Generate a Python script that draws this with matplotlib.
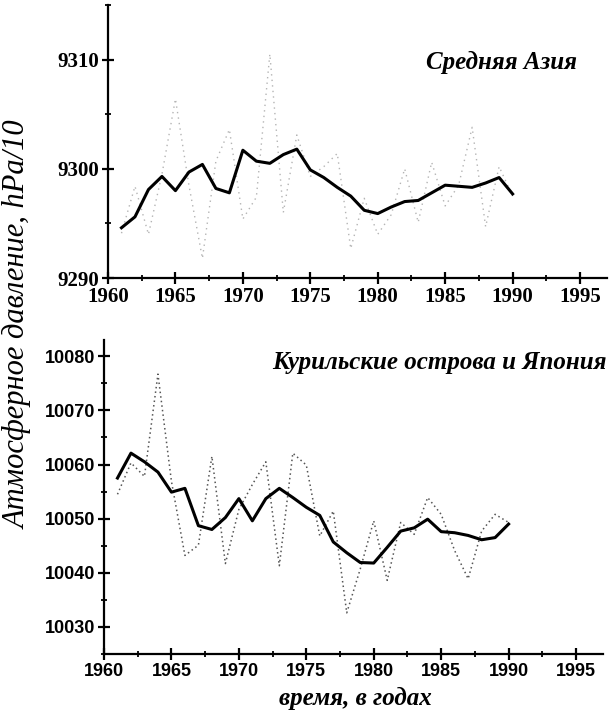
import numpy as np
import matplotlib
matplotlib.use('Agg')
import matplotlib.pyplot as plt
from matplotlib.ticker import MultipleLocator

# years of observation
years = list(range(1961, 1991))

# Средняя Азия: smoothed (solid) and annual (dotted) pressure, hPa/10
asia_smooth = [9294.6, 9295.6, 9298.1, 9299.3, 9298.0, 9299.7, 9300.4, 9298.2, 9297.8, 9301.7,
               9300.7, 9300.5, 9301.3, 9301.8, 9299.9, 9299.2, 9298.3, 9297.5, 9296.2, 9295.9,
               9296.5, 9297.0, 9297.1, 9297.8, 9298.5, 9298.4, 9298.3, 9298.7, 9299.2, 9297.7]
asia_annual = [9294.1, 9298.4, 9294.0, 9299.5, 9306.4, 9298.5, 9291.8, 9300.7, 9303.6, 9295.4,
               9297.4, 9310.5, 9296.0, 9303.1, 9299.3, 9300.2, 9301.4, 9292.7, 9297.3, 9294.0,
               9295.8, 9300.0, 9295.1, 9300.6, 9296.6, 9298.5, 9303.8, 9294.7, 9300.2, 9297.5]

# Курильские острова и Япония
kuril_smooth = [10057.5, 10062.1, 10060.5, 10058.6, 10054.9, 10055.6, 10048.7, 10048.0, 10050.2, 10053.7,
                10049.6, 10053.7, 10055.6, 10053.9, 10052.1, 10050.6, 10045.7, 10043.7, 10041.9, 10041.8,
                10044.7, 10047.7, 10048.3, 10049.9, 10047.6, 10047.4, 10046.9, 10046.1, 10046.5, 10049.0]
kuril_annual = [10054.5, 10060.3, 10057.8, 10076.7, 10056.9, 10043.2, 10045.1, 10061.5, 10041.7, 10051.7,
                10056.3, 10060.5, 10041.3, 10062.1, 10059.9, 10046.8, 10051.4, 10032.6, 10040.7, 10049.6,
                10038.6, 10049.3, 10047.1, 10053.9, 10050.8, 10044.1, 10038.9, 10047.7, 10050.8, 10049.3]

asia_yticks = [9290, 9300, 9310]
kuril_yticks = [10030, 10040, 10050, 10060, 10070, 10080]
xticks = [1960, 1965, 1970, 1975, 1980, 1985, 1990, 1995]

fig = plt.figure(figsize=(6.15, 7.23), dpi=100)

serif = 'Liberation Serif'
sans = 'Liberation Sans'


def style_axes(ax, label_font, label_size):
    for side in ('top', 'right'):
        ax.spines[side].set_visible(False)
    for side in ('left', 'bottom'):
        ax.spines[side].set_linewidth(1.6)
    ax.xaxis.set_major_locator(MultipleLocator(5))
    ax.xaxis.set_minor_locator(MultipleLocator(2.5))
    ax.yaxis.set_minor_locator(MultipleLocator(5))
    ax.tick_params(which='major', direction='inout', length=9, width=1.6, pad=2)
    ax.tick_params(which='minor', direction='inout', length=5, width=1.3)
    ax.set_xlim(1960, 1997)
    ax.set_xticks(xticks)
    for lab in ax.get_xticklabels() + ax.get_yticklabels():
        lab.set_fontfamily(label_font)
        lab.set_fontweight('bold')
        lab.set_fontsize(label_size)


# upper panel
ax1 = fig.add_axes([108 / 615, 1 - 278 / 723, (607 - 108) / 615, (278 - 5) / 723])
ax1.plot(years, asia_annual, color='#b4b4b4', lw=1.0, ls=(0, (1, 3)))
ax1.plot(years, asia_smooth, color='black', lw=2.2)
ax1.set_ylim(9290, 9315)
ax1.set_yticks(asia_yticks)
style_axes(ax1, serif, 15)
ax1.text(1994.8, 9309.7, 'Средняя Азия', ha='right', va='center',
         fontfamily=serif, fontweight='bold', fontstyle='italic', fontsize=18)

# lower panel
ax2 = fig.add_axes([104 / 615, 1 - 654 / 723, (603 - 104) / 615, (654 - 340) / 723])
ax2.plot(years, kuril_annual, color='#555555', lw=1.1, ls=(0, (1, 2)))
ax2.plot(years, kuril_smooth, color='black', lw=2.2)
ax2.set_ylim(10025, 10083)
ax2.set_yticks(kuril_yticks)
style_axes(ax2, sans, 13)
ax2.text(1997.3, 10078.9, 'Курильские острова и Япония', ha='right', va='center',
         fontfamily=serif, fontweight='bold', fontstyle='italic', fontsize=18, clip_on=False)

fig.text(18 / 615, 1 - 325 / 723, 'Атмосферное давление, hPa/10', rotation=90,
         ha='center', va='center', fontfamily=serif, fontstyle='italic', fontsize=22)
fig.text(355 / 615, 1 - 698 / 723, 'время, в годах', ha='center', va='center',
         fontfamily=serif, fontweight='bold', fontstyle='italic', fontsize=18)

fig.savefig('out.png', dpi=100)
